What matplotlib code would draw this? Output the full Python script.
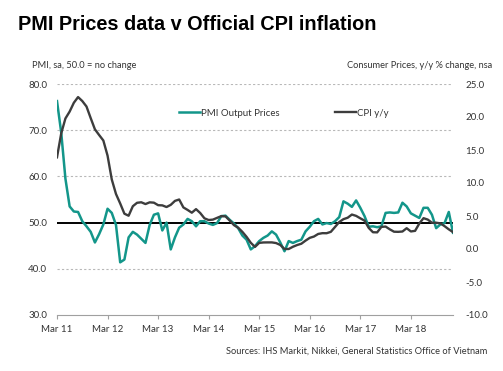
import numpy as np
import matplotlib
matplotlib.use('Agg')
import matplotlib.pyplot as plt

# Monthly series, Mar 2011 - Jan 2019
pmi_output_prices = [
    76.3, 69.5, 59.5, 53.5, 52.4, 52.3, 50.3, 49.2, 48.0, 45.7,  # 2011
    47.5, 49.6, 53.0, 52.1, 49.5, 41.4, 42.0, 46.8, 48.0, 47.4, 46.5, 45.6,  # 2012
    49.5, 51.7, 52.0, 48.3, 50.0, 44.2, 46.8, 48.9, 49.6, 50.8, 50.3, 49.2,  # 2013
    50.3, 50.3, 49.8, 49.5, 49.9, 51.4, 51.5, 50.6, 49.8, 48.8, 47.2, 46.3,  # 2014
    44.2, 44.9, 46.0, 46.7, 47.2, 48.1, 47.4, 45.7, 43.8, 46.0, 45.6, 46.0,  # 2015
    46.3, 48.1, 49.1, 50.3, 50.8, 49.6, 49.9, 49.7, 50.3, 51.2, 54.6, 54.1,  # 2016
    53.4, 54.8, 53.2, 51.4, 49.1, 49.2, 49.0, 49.2, 52.1, 52.2, 52.1, 52.2,  # 2017
    54.3, 53.5, 52.0, 51.5, 51.0, 53.2, 53.2, 51.7, 48.8, 49.6, 49.9, 52.3,  # 2018
    47.8,
]
cpi_yy = [
    13.89, 17.51, 19.78, 20.82, 22.16, 23.02, 22.42, 21.59, 19.83, 18.13,
    17.27, 16.44, 14.15, 10.54, 8.34, 6.90, 5.35, 5.04, 6.48, 7.00, 7.08, 6.81,
    7.07, 7.02, 6.64, 6.61, 6.36, 6.69, 7.29, 7.50, 6.30, 5.92, 5.50, 6.04,
    5.45, 4.65, 4.39, 4.45, 4.72, 4.98, 4.94, 4.31, 3.62, 3.23, 2.60, 1.84,
    0.94, 0.32, 0.93, 0.99, 1.00, 1.00, 0.90, 0.61, 0.00, 0.00, 0.34, 0.60,
    0.80, 1.27, 1.69, 1.89, 2.28, 2.40, 2.39, 2.60, 3.34, 4.09, 4.52, 4.74,
    5.22, 5.02, 4.65, 4.30, 3.19, 2.54, 2.52, 3.35, 3.40, 2.98, 2.62, 2.60,
    2.65, 3.15, 2.66, 2.75, 3.86, 4.67, 4.46, 3.98, 3.98, 3.89, 3.46, 2.98,
    2.56,
]
tick_labels = ['Mar 11', 'Mar 12', 'Mar 13', 'Mar 14', 'Mar 15', 'Mar 16', 'Mar 17', 'Mar 18']
left_ticks = [30, 40, 50, 60, 70, 80]
right_ticks = [-10, -5, 0, 5, 10, 15, 20, 25]

teal = '#13968a'
dark = '#3d3d3d'
txt = '#333333'
small = ['Lato', 'DejaVu Sans']

x = np.arange(len(pmi_output_prices))

fig = plt.figure(figsize=(5.03, 3.71), dpi=100)
ax = fig.add_axes([57 / 503, 1 - 315 / 371, 396 / 503, 231 / 371])
ax2 = ax.twinx()

# gridlines on left scale
for v in [40, 60, 70, 80]:
    ax.axhline(v, color='#b8b8b8', lw=0.8, ls=(0, (2, 2)), zorder=0)
ax.axhline(50, color='black', lw=1.4, zorder=1)

l1, = ax.plot(x, pmi_output_prices, color=teal, lw=1.8, zorder=3, label='PMI Output Prices')
l2, = ax2.plot(x, cpi_yy, color=dark, lw=1.7, zorder=3, label='CPI y/y')

ax.set_xlim(0, 94)
ax.set_ylim(30, 80)
ax2.set_ylim(-10, 25)

ax.set_yticks(left_ticks)
ax.set_yticklabels([f'{v:.1f}' for v in left_ticks], family=small, fontsize=7, color=txt)
ax2.set_yticks(right_ticks)
ax2.set_yticklabels([f'{v:.1f}' for v in right_ticks], family=small, fontsize=7, color=txt)
ax.set_xticks(np.arange(0, 85, 12))
ax.set_xticklabels(tick_labels, family=small, fontsize=7, color=txt)

for a in (ax, ax2):
    for s in ['top', 'left', 'right', 'bottom']:
        a.spines[s].set_visible(False)
    a.tick_params(axis='y', length=0)
ax.spines['bottom'].set_visible(True)
ax.spines['bottom'].set_color('#a0a0a0')
ax.spines['bottom'].set_linewidth(0.8)
ax.tick_params(axis='x', length=3, color='#a0a0a0', pad=4)
ax.tick_params(axis='y', pad=7)
ax2.tick_params(axis='y', pad=9)

ax.legend(handles=[l1, l2], loc='upper left', bbox_to_anchor=(170 / 503, 1 - 100 / 371),
          bbox_transform=fig.transFigure, ncol=2, frameon=False, prop={'family': small, 'size': 6.9},
          handlelength=2.2, handletextpad=0.1, columnspacing=5.8, labelcolor=txt)

fig.text(18 / 503, 1 - 25 / 371, 'PMI Prices data v Official CPI inflation', family=['Liberation Sans', 'DejaVu Sans'],
         fontsize=14.3, fontweight='bold', va='center', ha='left', color='black')
fig.text(32 / 503, 1 - 65 / 371, 'PMI, sa, 50.0 = no change', family=small, fontsize=6.7, color=txt, va='center')
fig.text(492 / 503, 1 - 65 / 371, 'Consumer Prices, y/y % change, nsa', family=small, fontsize=6.7, color=txt,
         va='center', ha='right')
fig.text(487 / 503, 1 - 351 / 371, 'Sources: IHS Markit, Nikkei, General Statistics Office of Vietnam',
         family=small, fontsize=6.7, color=txt, va='center', ha='right')

fig.savefig('out.png', dpi=100)
